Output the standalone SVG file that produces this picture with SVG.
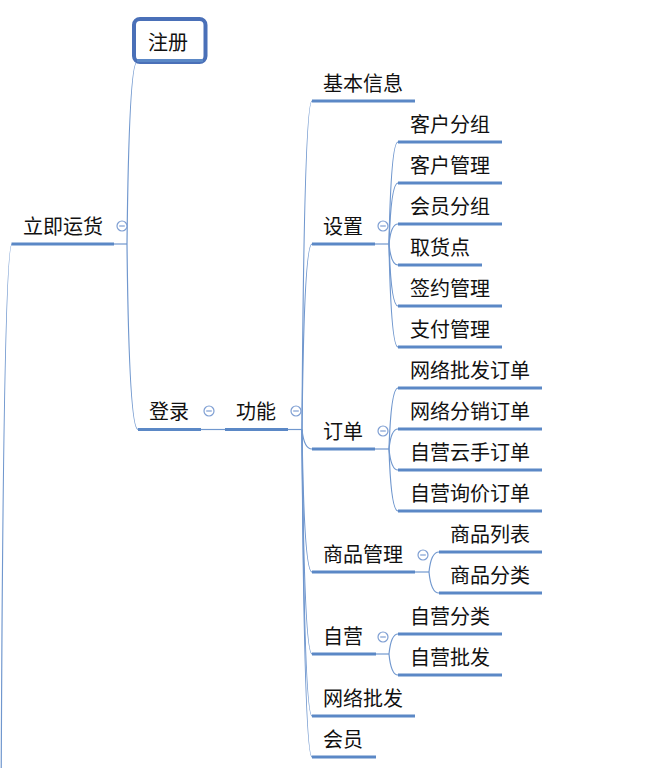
<svg xmlns="http://www.w3.org/2000/svg" xmlns:xlink="http://www.w3.org/1999/xlink" width="657" height="768" viewBox="0 0 657 768">
<style>
.t{font-family:"Noto Sans CJK SC","Noto Sans",sans-serif;font-size:20px;fill:#111}
.u{stroke:#5b88c6;stroke-width:3;fill:none}
.c{fill:none;stroke:#7097ce;stroke-width:1.2}
.box{fill:#fff;stroke:#4a70b8;stroke-width:4}
</style>
<defs>
<g id="m"><circle cx="0" cy="0" r="5" fill="#fff" stroke="#7f9fd3" stroke-width="1.2"/><line x1="-2.8" y1="0" x2="2.8" y2="0" stroke="#7f9fd3" stroke-width="1.2"/></g>
</defs>
<rect width="657" height="768" fill="#fff"/>
<g id="connectors">
<path class="c" d="M12,244 Q3,244 1,830"/>
<path class="c" d="M114,244 H127"/>
<path class="c" d="M127,244 Q129,62 137,62"/>
<path class="c" d="M127,244 Q129,429.5 138,429.5"/>
<path class="c" d="M201,429.5 H225"/>
<path class="c" d="M288,429.5 H302"/>
<path class="c" d="M302,429.5 Q304,101 312,101"/>
<path class="c" d="M302,429.5 Q304,244 312,244"/>
<path class="c" d="M302,429.5 Q304,449 312,449"/>
<path class="c" d="M302,429.5 Q304,572 312,572"/>
<path class="c" d="M302,429.5 Q304,654 312,654"/>
<path class="c" d="M302,429.5 Q304,716 312,716"/>
<path class="c" d="M302,429.5 Q304,757 312,757"/>
<path class="c" d="M375,244 H389"/>
<path class="c" d="M389,244 Q391,142 398,142"/>
<path class="c" d="M389,244 Q391,183 398,183"/>
<path class="c" d="M389,244 Q391,224 398,224"/>
<path class="c" d="M389,244 Q391,265 398,265"/>
<path class="c" d="M389,244 Q391,306 398,306"/>
<path class="c" d="M389,244 Q391,347 398,347"/>
<path class="c" d="M375,449 H389"/>
<path class="c" d="M389,449 Q391,388 398,388"/>
<path class="c" d="M389,449 Q391,429 398,429"/>
<path class="c" d="M389,449 Q391,470 398,470"/>
<path class="c" d="M389,449 Q391,511 398,511"/>
<path class="c" d="M415,572 H429"/>
<path class="c" d="M429,572 Q431,552 439,552"/>
<path class="c" d="M429,572 Q431,593 439,593"/>
<path class="c" d="M376,654 H389"/>
<path class="c" d="M389,654 Q391,634 398,634"/>
<path class="c" d="M389,654 Q391,675 398,675"/>
</g>
<g id="n-zhuce"><rect class="box" x="134" y="19" width="71.5" height="43" rx="6"/><line class="u" x1="137" y1="60.5" x2="203" y2="60.5"/><text class="t" x="148" y="50">注册</text></g>
<g id="n-lijiyunhuo"><line class="u" x1="11.5" y1="244" x2="114" y2="244"/><text class="t" x="23" y="233.5">立即运货</text><use xlink:href="#m" x="122" y="226"/></g>
<g id="n-denglu"><line class="u" x1="138" y1="429.5" x2="201" y2="429.5"/><text class="t" x="149" y="419">登录</text><use xlink:href="#m" x="209" y="411"/></g>
<g id="n-gongneng"><line class="u" x1="225" y1="429.5" x2="288" y2="429.5"/><text class="t" x="236" y="419">功能</text><use xlink:href="#m" x="296" y="411"/></g>
<g id="n-jibenxinxi"><line class="u" x1="312" y1="101" x2="415" y2="101"/><text class="t" x="323" y="90.5">基本信息</text></g>
<g id="n-shezhi"><line class="u" x1="312" y1="244" x2="375" y2="244"/><text class="t" x="323" y="233.5">设置</text><use xlink:href="#m" x="383" y="226"/></g>
<g id="n-kehufenzu"><line class="u" x1="398" y1="142" x2="502" y2="142"/><text class="t" x="410" y="131.5">客户分组</text></g>
<g id="n-kehuguanli"><line class="u" x1="398" y1="183" x2="502" y2="183"/><text class="t" x="410" y="172.5">客户管理</text></g>
<g id="n-huiyuanfenzu"><line class="u" x1="398" y1="224" x2="502" y2="224"/><text class="t" x="410" y="213.5">会员分组</text></g>
<g id="n-quhuodian"><line class="u" x1="398" y1="265" x2="482" y2="265"/><text class="t" x="410" y="254.5">取货点</text></g>
<g id="n-qianyueguanli"><line class="u" x1="398" y1="306" x2="502" y2="306"/><text class="t" x="410" y="295.5">签约管理</text></g>
<g id="n-zhifuguanli"><line class="u" x1="398" y1="347" x2="502" y2="347"/><text class="t" x="410" y="336.5">支付管理</text></g>
<g id="n-dingdan"><line class="u" x1="312" y1="449" x2="375" y2="449"/><text class="t" x="323" y="438.5">订单</text><use xlink:href="#m" x="383" y="431"/></g>
<g id="n-wlpfdd"><line class="u" x1="398" y1="388" x2="542" y2="388"/><text class="t" x="410" y="377.5">网络批发订单</text></g>
<g id="n-wlfxdd"><line class="u" x1="398" y1="429" x2="542" y2="429"/><text class="t" x="410" y="418.5">网络分销订单</text></g>
<g id="n-zyysdd"><line class="u" x1="398" y1="470" x2="542" y2="470"/><text class="t" x="410" y="459.5">自营云手订单</text></g>
<g id="n-zyxjdd"><line class="u" x1="398" y1="511" x2="542" y2="511"/><text class="t" x="410" y="500.5">自营询价订单</text></g>
<g id="n-shangpinguanli"><line class="u" x1="312" y1="572" x2="415" y2="572"/><text class="t" x="323" y="561.5">商品管理</text><use xlink:href="#m" x="423" y="555"/></g>
<g id="n-shangpinliebiao"><line class="u" x1="439" y1="552" x2="542" y2="552"/><text class="t" x="450" y="541.5">商品列表</text></g>
<g id="n-shangpinfenlei"><line class="u" x1="439" y1="593" x2="542" y2="593"/><text class="t" x="450" y="582.5">商品分类</text></g>
<g id="n-ziying"><line class="u" x1="312" y1="654" x2="376" y2="654"/><text class="t" x="323" y="643.5">自营</text><use xlink:href="#m" x="383" y="637"/></g>
<g id="n-ziyingfenlei"><line class="u" x1="398" y1="634" x2="502" y2="634"/><text class="t" x="410" y="623.5">自营分类</text></g>
<g id="n-ziyingpifa"><line class="u" x1="398" y1="675" x2="502" y2="675"/><text class="t" x="410" y="664.5">自营批发</text></g>
<g id="n-wangluopifa"><line class="u" x1="312" y1="716" x2="415" y2="716"/><text class="t" x="323" y="705.5">网络批发</text></g>
<g id="n-huiyuan"><line class="u" x1="312" y1="757" x2="376" y2="757"/><text class="t" x="323" y="746.5">会员</text></g>
</svg>
